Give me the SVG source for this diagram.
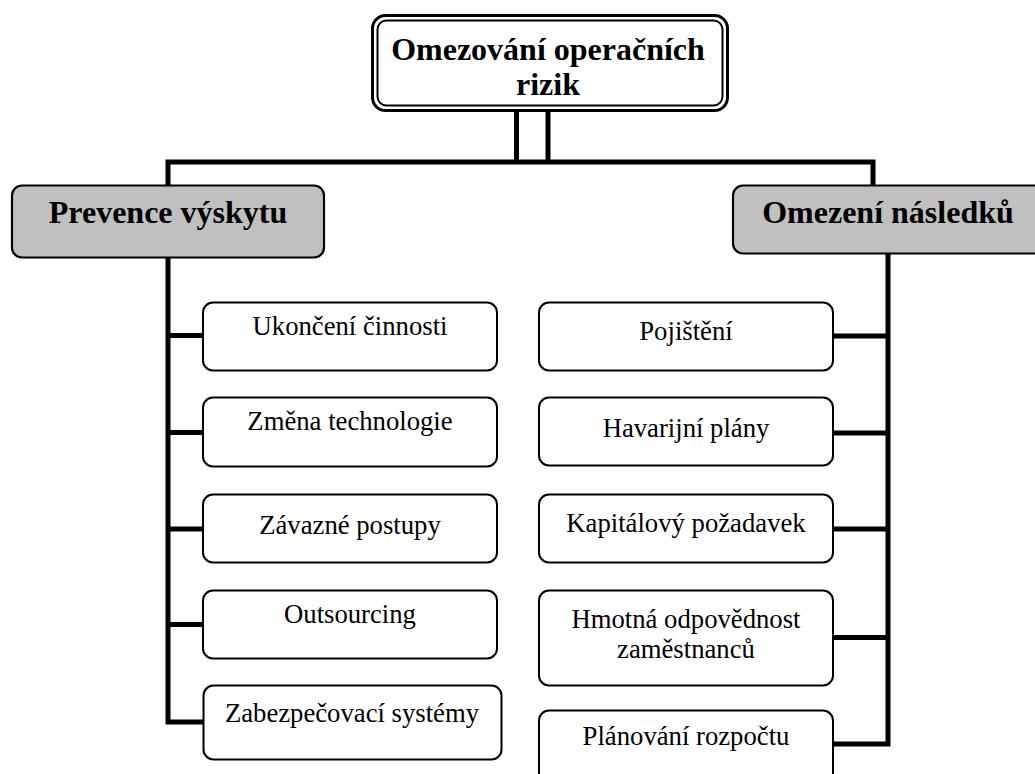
<svg xmlns="http://www.w3.org/2000/svg" width="1035" height="774" viewBox="0 0 1035 774">
<style>
  .conn { fill: none; stroke: #000; stroke-width: 5; stroke-linejoin: miter; stroke-linecap: butt; }
  .box { fill: #fff; stroke: #000; stroke-width: 2; }
  .cat { fill: #c0c0c0; stroke: #000; stroke-width: 2.2; }
  .t { font-family: "Liberation Serif", "Times New Roman", serif; font-size: 26.7px; fill: #000; text-anchor: middle; }
  .tb { font-family: "Liberation Serif", "Times New Roman", serif; font-size: 32px; font-weight: bold; fill: #000; text-anchor: middle; }
</style>
<rect width="1035" height="774" fill="#fff"/>
<g id="connectors">
  <line class="conn" x1="516.5" y1="111" x2="516.5" y2="162"/>
  <line class="conn" x1="548" y1="111" x2="548" y2="162"/>
  <path class="conn" d="M168,186 V162 H873 V186"/>
  <path class="conn" d="M168,257 V722 H203"/>
  <line class="conn" x1="168" y1="335.5" x2="203" y2="335.5"/>
  <line class="conn" x1="168" y1="432.5" x2="203" y2="432.5"/>
  <line class="conn" x1="168" y1="529" x2="203" y2="529"/>
  <line class="conn" x1="168" y1="624.5" x2="203" y2="624.5"/>
  <path class="conn" d="M888,253 V744 H833"/>
  <line class="conn" x1="888" y1="336" x2="833" y2="336"/>
  <line class="conn" x1="888" y1="433" x2="833" y2="433"/>
  <line class="conn" x1="888" y1="529" x2="833" y2="529"/>
  <line class="conn" x1="888" y1="637.5" x2="833" y2="637.5"/>
</g>
<g id="root">
  <rect x="372.5" y="15.5" width="355" height="95" rx="13" fill="#fff" stroke="#000" stroke-width="3"/>
  <rect x="377.5" y="20.5" width="345" height="85" rx="9" fill="none" stroke="#000" stroke-width="2"/>
  <text class="tb" x="548" y="60">Omezování operačních</text>
  <text class="tb" x="548" y="95">rizik</text>
</g>
<g id="prevence">
  <rect class="cat" x="12" y="185.5" width="312" height="72" rx="10"/>
  <text class="tb" x="168" y="223">Prevence výskytu</text>
</g>
<g id="omezeni">
  <rect class="cat" x="733" y="185.5" width="320" height="68" rx="10"/>
  <text class="tb" x="888" y="223">Omezení následků</text>
</g>
<g id="ukonceni">
  <rect class="box" x="203" y="302.5" width="294" height="68" rx="10"/>
  <text class="t" x="350" y="335">Ukončení činnosti</text>
</g>
<g id="zmena">
  <rect class="box" x="203" y="397.5" width="294" height="69" rx="10"/>
  <text class="t" x="350" y="430">Změna technologie</text>
</g>
<g id="zavazne">
  <rect class="box" x="203" y="494.5" width="294" height="68" rx="10"/>
  <text class="t" x="350" y="534">Závazné postupy</text>
</g>
<g id="outsourcing">
  <rect class="box" x="203" y="590.5" width="294" height="68" rx="10"/>
  <text class="t" x="350" y="623">Outsourcing</text>
</g>
<g id="zabezpecovaci">
  <rect class="box" x="203.5" y="685.5" width="298" height="74" rx="10"/>
  <text class="t" x="352" y="722">Zabezpečovací systémy</text>
</g>
<g id="pojisteni">
  <rect class="box" x="539" y="302.5" width="294" height="68" rx="10"/>
  <text class="t" x="686" y="340">Pojištění</text>
</g>
<g id="havarijni">
  <rect class="box" x="539" y="397.5" width="294" height="68" rx="10"/>
  <text class="t" x="686" y="436.5">Havarijní plány</text>
</g>
<g id="kapitalovy">
  <rect class="box" x="539" y="494.5" width="294" height="68" rx="10"/>
  <text class="t" x="686" y="531.5">Kapitálový požadavek</text>
</g>
<g id="hmotna">
  <rect class="box" x="539" y="590.5" width="294" height="95" rx="10"/>
  <text class="t" x="686" y="628">Hmotná odpovědnost</text>
  <text class="t" x="686" y="658">zaměstnanců</text>
</g>
<g id="planovani">
  <rect class="box" x="539" y="710.5" width="294" height="75" rx="10"/>
  <text class="t" x="686" y="745">Plánování rozpočtu</text>
</g>
</svg>
